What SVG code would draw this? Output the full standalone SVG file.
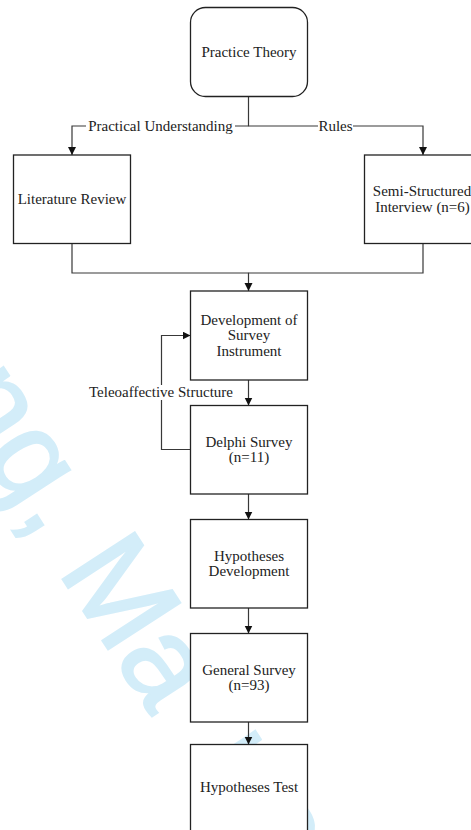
<svg xmlns="http://www.w3.org/2000/svg" width="471" height="830" viewBox="0 0 471 830">
  <style>
    .box { fill: #ffffff; stroke: #222222; stroke-width: 1.3; }
    .lbl { font-family: "Liberation Serif", "Times New Roman", serif; font-size: 15px; fill: #222222; text-anchor: middle; }
    .wire { fill: none; stroke: #383838; stroke-width: 1.2; }
    .wire-arrow { fill: none; stroke: #383838; stroke-width: 1.2; marker-end: url(#head); }
    .mask { fill: #ffffff; }
    .mark { font-family: "Liberation Sans", Arial, sans-serif; font-size: 125px; fill: #d3edf9; stroke: #d3edf9; stroke-width: 2; }
  </style>
  <defs>
    <marker id="head" markerUnits="userSpaceOnUse" markerWidth="9" markerHeight="9" refX="8" refY="4" orient="auto">
      <path d="M0,0 L8,4 L0,8 Z" fill="#111111"/>
    </marker>
  </defs>

  <rect width="471" height="830" fill="#ffffff"/>

  <!-- background watermark, sits behind the boxes -->
  <text class="mark" transform="translate(-56.5,396) rotate(57)">ng, Ma<tspan dx="60" dy="-13">na</tspan></text>

  <g id="connectors">
    <path class="wire-arrow" d="M248.5,96.5 V126 H72 V155"/>
    <path class="wire-arrow" d="M248.5,126 H423 V155"/>
    <path class="wire-arrow" d="M72,243.5 V273 H248.5 V291"/>
    <path class="wire" d="M423,243.5 V273 H248.5"/>
    <path class="wire-arrow" d="M248.5,380 V405.5"/>
    <path class="wire-arrow" d="M190.5,449.5 H161.5 V335.5 H190.5"/>
    <path class="wire-arrow" d="M248.5,494 V519.5"/>
    <path class="wire-arrow" d="M248.5,608 V633.5"/>
    <path class="wire-arrow" d="M248.5,722 V744.5"/>

    <rect class="mask" x="86" y="119" width="149" height="15"/>
    <text class="lbl" x="160.5" y="130.5">Practical Understanding</text>
    <rect class="mask" x="318" y="119" width="35" height="15"/>
    <text class="lbl" x="335.5" y="130.5">Rules</text>
    <rect class="mask" x="88" y="385" width="146" height="15"/>
    <text class="lbl" x="161" y="397">Teleoaffective Structure</text>
  </g>

  <g id="practice-theory">
    <rect class="box" x="190.5" y="7.5" width="117" height="89" rx="15" ry="15"/>
    <text class="lbl" x="249" y="56.5">Practice Theory</text>
  </g>

  <g id="literature-review">
    <rect class="box" x="13.5" y="155" width="117" height="88.5"/>
    <text class="lbl" x="72" y="204">Literature Review</text>
  </g>

  <g id="semi-structured-interview">
    <rect class="box" x="364.5" y="155" width="117" height="88.5"/>
    <text class="lbl" x="422" y="196"><tspan x="422">Semi-Structured</tspan><tspan x="422.5" dy="15.7">Interview (n=6)</tspan></text>
  </g>

  <g id="survey-instrument">
    <rect class="box" x="190.5" y="291" width="117" height="89"/>
    <text class="lbl" x="249" y="324.5"><tspan x="249">Development of</tspan><tspan x="249" dy="15.7">Survey</tspan><tspan x="249" dy="15.7">Instrument</tspan></text>
  </g>

  <g id="delphi-survey">
    <rect class="box" x="190.5" y="405.5" width="117" height="88.5"/>
    <text class="lbl" x="249" y="446.5"><tspan x="249">Delphi Survey</tspan><tspan x="249" dy="15.7">(n=11)</tspan></text>
  </g>

  <g id="hypotheses-development">
    <rect class="box" x="190.5" y="519.5" width="117" height="88.5"/>
    <text class="lbl" x="249" y="560.5"><tspan x="249">Hypotheses</tspan><tspan x="249" dy="15.7">Development</tspan></text>
  </g>

  <g id="general-survey">
    <rect class="box" x="190.5" y="633.5" width="117" height="88.5"/>
    <text class="lbl" x="249" y="674.5"><tspan x="249">General Survey</tspan><tspan x="249" dy="15.7">(n=93)</tspan></text>
  </g>

  <g id="hypotheses-test">
    <rect class="box" x="190.5" y="744.5" width="117" height="89"/>
    <text class="lbl" x="249" y="792">Hypotheses Test</text>
  </g>
</svg>
